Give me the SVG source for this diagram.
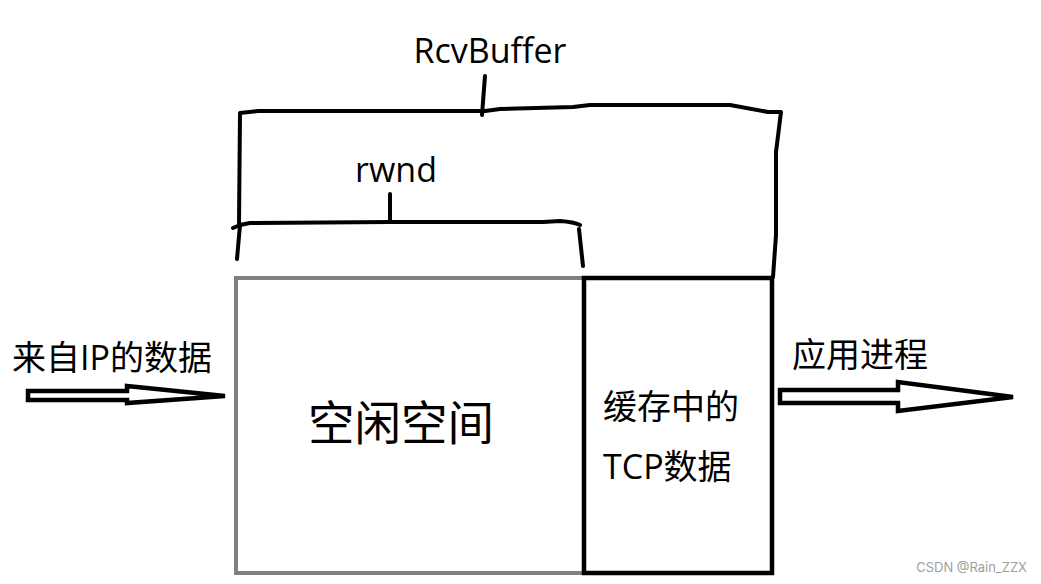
<svg xmlns="http://www.w3.org/2000/svg" width="1041" height="584" viewBox="0 0 1041 584">
<style>
.t{font-family:"Open Sans","Noto Sans CJK SC",sans-serif;fill:#000}
.hand{fill:none;stroke:#000;stroke-width:4;stroke-linecap:round;stroke-linejoin:round}
.arrow{fill:#fff;stroke:#000;stroke-width:4.5;stroke-linejoin:miter}
</style>
<rect width="1041" height="584" fill="#fff"/>
<g id="rcvbuffer">
<path class="hand" d="M239,223 L240,113 L258,111 L485,111 L500,109 L573,107 L590,105 L730,105 L768,112 L781,112 L776,152 L776,235 L773,277"/>
<path class="hand" d="M485,76 L482,115"/>
<text class="t" x="490" y="63" font-size="34" text-anchor="middle">RcvBuffer</text>
</g>
<g id="rwnd">
<path class="hand" d="M233,228 L240,225 L250,223 L390,222 L543,222 L560,221 Q574,222 580,225"/>
<path class="hand" d="M579,229 L583,266"/>
<path class="hand" d="M240,225 L237,259"/>
<path class="hand" d="M390,194 L390,222"/>
<text class="t" x="396" y="182" font-size="34" text-anchor="middle">rwnd</text>
</g>
<g id="free-space">
<rect x="236" y="278" width="348" height="295" fill="#fff" stroke="#808080" stroke-width="4"/>
<text class="t" x="401" y="440" font-size="46.5" text-anchor="middle">空闲空间</text>
</g>
<g id="tcp-data">
<rect x="584" y="278" width="188" height="295" fill="#fff" stroke="#000" stroke-width="4.5"/>
<text class="t" x="603" y="419" font-size="34">缓存中的</text>
<text class="t" x="603" y="479" font-size="34">TCP数据</text>
</g>
<g id="labels">
<text class="t" x="12" y="370" font-size="34">来自IP的数据</text>
<text class="t" x="792" y="367" font-size="34">应用进程</text>
</g>
<g id="connectors">
<path class="arrow" d="M28,391 L127,391 L127,386 L225,396 L127,403 L127,400 L28,400 Z"/>
<path class="arrow" d="M780,390 L898,390 L898,382 L1013,397 L898,411 L898,403 L780,403 Z"/>
</g>
<text x="1027" y="572" font-family="Inter,'Liberation Sans',sans-serif" font-size="13" fill="#a0a0a0" text-anchor="end">CSDN @Rain_ZZX</text>
</svg>
